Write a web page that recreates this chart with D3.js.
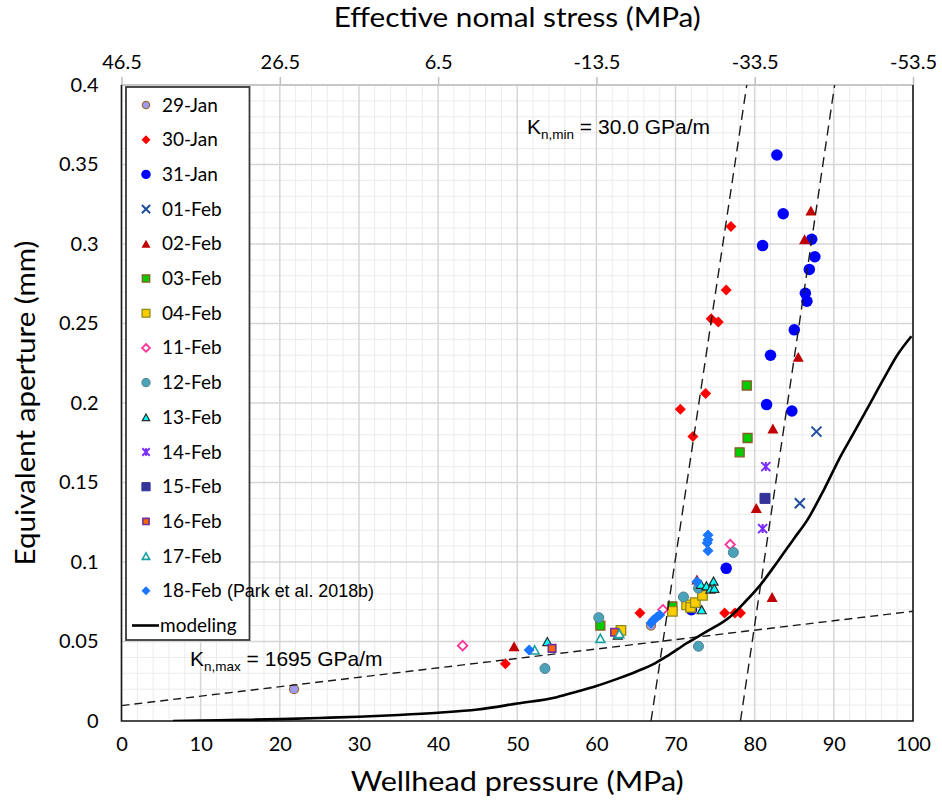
<!DOCTYPE html>
<html><head><meta charset="utf-8">
<script src="https://cdn.jsdelivr.net/npm/d3@7"></script>
<style>body{margin:0;background:#fff}</style>
</head><body>
<svg id="chart" width="942" height="801"></svg>
<script>
// ---------- data ----------
const xTickValues = [0,10,20,30,40,50,60,70,80,90,100];
const yTickValues = [0,0.05,0.1,0.15,0.2,0.25,0.3,0.35,0.4];
const topTickLabels = [46.5,26.5,6.5,-13.5,-33.5,-53.5];

const s29Jan = [[21.8,0.020],[66.9,0.060]];
const s30Jan = [[77.0,0.311],[76.4,0.271],[74.5,0.253],[75.4,0.251],[73.8,0.206],[70.6,0.196],[72.2,0.179],[65.5,0.068],[76.2,0.068],[77.5,0.068],[78.2,0.068],[48.5,0.036]];
const s31Jan = [[82.8,0.356],[83.6,0.319],[81.0,0.299],[87.2,0.303],[87.6,0.292],[86.9,0.284],[86.4,0.269],[86.6,0.264],[85.0,0.246],[82.0,0.230],[81.5,0.199],[84.7,0.195],[76.4,0.096],[72.0,0.070]];
const s01Feb = [[87.8,0.182],[85.7,0.137]];
const s02Feb = [[87.1,0.321],[86.3,0.303],[85.5,0.229],[82.3,0.184],[80.2,0.134],[82.2,0.078],[49.6,0.047],[72.7,0.089]];
const s03Feb = [[79.0,0.211],[79.1,0.178],[78.1,0.169],[69.6,0.072],[60.5,0.060]];
const s04Feb = [[69.6,0.069],[71.4,0.073],[71.9,0.0715],[72.5,0.0745],[73.4,0.079],[63.1,0.057]];
const s11Feb = [[43.1,0.0474],[68.4,0.070],[76.9,0.111]];
const s12Feb = [[60.3,0.065],[71.0,0.078],[77.3,0.106],[72.9,0.047],[53.5,0.033],[72.9,0.0835]];
const s13Feb = [[53.8,0.050],[62.7,0.054],[73.3,0.070],[73.2,0.086],[73.9,0.085],[74.8,0.088],[74.4,0.083],[74.9,0.0835]];
const s14Feb = [[81.4,0.160],[81.0,0.121]];
const s15Feb = [[81.3,0.140]];
const s16Feb = [[54.4,0.0457],[62.3,0.0558]];
const s17Feb = [[52.2,0.0447],[60.5,0.052],[62.9,0.055]];
const s18Feb = [[51.5,0.0447],[66.9,0.0616],[67.2,0.0635],[67.6,0.0652],[68.0,0.0667],[74.1,0.117],[74.1,0.114],[74.0,0.112],[74.1,0.107],[72.7,0.0876]];

const modelX = [6.5,10,15,20,25,30,35,40,45,50,55,57.5,60,62.8,65,67.4,69,71.4,73.9,76.9,78.8,80.7,83,85,86.6,88.8,90.8,92.5,94.5,96.5,98,99.8];
const modelY = [0,0.0003,0.0007,0.0012,0.0019,0.0027,0.0038,0.0052,0.0072,0.011,0.015,0.0184,0.022,0.0268,0.031,0.0363,0.041,0.0489,0.0562,0.0656,0.075,0.0855,0.101,0.115,0.126,0.146,0.166,0.181,0.199,0.217,0.230,0.242];

const knMaxLine = [[0,0.0097],[100,0.069]];
const knMinLineA = [[66.9,0],[79.0,0.4]];
const knMinLineB = [[78.2,0],[90.1,0.4]];

// ---------- setup ----------
const svg = d3.select("#chart");
const x = d3.scaleLinear().domain([0,100]).range([121.5,913]);
const y = d3.scaleLinear().domain([0,0.4]).range([721,85]);
const xTop = d3.scaleLinear().domain([46.5,-53.5]).range(x.range());
const FONT = "Lato, 'Open Sans', sans-serif";
const ARIAL = "'Liberation Sans', Arial, sans-serif";

svg.append("defs").append("clipPath").attr("id","plotclip")
  .append("rect").attr("x",x(0)).attr("y",y(0.4)).attr("width",x(100)-x(0)).attr("height",y(0)-y(0.4));

// grid
const minorX = d3.range(0,100.001,2).filter(v=>v%10!==0);
const minorY = d3.range(0,0.4001,0.01).filter(v=>Math.round(v*100)%5!==0);
const grid = svg.append("g");
grid.selectAll(".mx").data(minorX).join("line")
  .attr("x1",d=>x(d)).attr("x2",d=>x(d)).attr("y1",y(0)).attr("y2",y(0.4))
  .attr("stroke","#ebebeb").attr("stroke-width",1);
grid.selectAll(".my").data(minorY).join("line")
  .attr("y1",d=>y(d)).attr("y2",d=>y(d)).attr("x1",x(0)).attr("x2",x(100))
  .attr("stroke","#ebebeb").attr("stroke-width",1);
grid.selectAll(".Mx").data(xTickValues).join("line")
  .attr("x1",d=>x(d)).attr("x2",d=>x(d)).attr("y1",y(0)).attr("y2",y(0.4))
  .attr("stroke","#d6d6d6").attr("stroke-width",1.5);
grid.selectAll(".My").data(yTickValues).join("line")
  .attr("y1",d=>y(d)).attr("y2",d=>y(d)).attr("x1",x(0)).attr("x2",x(100))
  .attr("stroke","#d6d6d6").attr("stroke-width",1.5);

// axes
const bottomAxis = svg.append("g").attr("transform",`translate(0,${y(0)})`)
  .call(d3.axisBottom(x).tickValues(xTickValues).tickSize(0).tickPadding(16));
const leftAxis = svg.append("g").attr("transform",`translate(${x(0)},0)`)
  .call(d3.axisLeft(y).tickValues(yTickValues).tickSize(0).tickPadding(23)
    .tickFormat(d=>d===0?"0":String(+d.toFixed(2))));
const topAxis = svg.append("g").attr("transform",`translate(0,${y(0.4)})`)
  .call(d3.axisTop(xTop).tickValues(topTickLabels).tickSize(8).tickPadding(8)
    .tickFormat(d=>d.toFixed(1)));
[bottomAxis,leftAxis,topAxis].forEach(g=>{
  g.select(".domain").remove();
  g.selectAll("text").attr("font-family",FONT).attr("font-size",20).attr("fill","#000");
});
topAxis.selectAll("line").attr("stroke","#bfbfbf").attr("stroke-width",1.5);

// frame
svg.append("line").attr("x1",x(0)).attr("x2",x(100)).attr("y1",y(0.4)).attr("y2",y(0.4)).attr("stroke","#bfbfbf").attr("stroke-width",1.5);
svg.append("path").attr("d",`M${x(0)},${y(0.4)}V${y(0)}H${x(100)}V${y(0.4)}`)
  .attr("fill","none").attr("stroke","#1a1a1a").attr("stroke-width",1.6);

// titles
svg.append("text").attr("x",(x(0)+x(100))/2).attr("y",27).attr("text-anchor","middle")
  .attr("font-family",FONT).attr("font-size",26).attr("textLength",367).attr("lengthAdjust","spacingAndGlyphs")
  .text("Effective nomal stress (MPa)");
svg.append("text").attr("x",(x(0)+x(100))/2).attr("y",791).attr("text-anchor","middle")
  .attr("font-family",FONT).attr("font-size",26).attr("textLength",333).attr("lengthAdjust","spacingAndGlyphs")
  .text("Wellhead pressure (MPa)");
svg.append("text").attr("transform",`translate(35,${(y(0)+y(0.4))/2}) rotate(-90)`).attr("text-anchor","middle")
  .attr("font-family",FONT).attr("font-size",26).attr("textLength",325).attr("lengthAdjust","spacingAndGlyphs")
  .text("Equivalent aperture (mm)");

// dashed reference lines
const plot = svg.append("g").attr("clip-path","url(#plotclip)");
const lineGen = d3.line().x(d=>x(d[0])).y(d=>y(d[1]));
plot.append("path").datum(knMaxLine).attr("d",lineGen).attr("fill","none")
  .attr("stroke","#1a1a1a").attr("stroke-width",1.4).attr("stroke-dasharray","8,5");
[knMinLineA,knMinLineB].forEach(l=>plot.append("path").datum(l).attr("d",lineGen).attr("fill","none")
  .attr("stroke","#1a1a1a").attr("stroke-width",1.4).attr("stroke-dasharray","10,6"));

// marker shapes
function shapePath(type,s){
  const h=s/2;
  switch(type){
    case "diamond": return `M0,${-h}L${h},0L0,${h}L${-h},0Z`;
    case "square": return `M${-h},${-h}H${h}V${h}H${-h}Z`;
    case "triangle": { const ht=s*0.9; return `M0,${-ht/2}L${h},${ht/2}L${-h},${ht/2}Z`; }
    case "x": return `M${-h},${-h}L${h},${h}M${-h},${h}L${h},${-h}`;
    case "star": return `M${-h},${-h}L${h},${h}M${-h},${h}L${h},${-h}M0,${-h}V${h}`;
    default: return "";
  }
}
const seriesStyles = [
  {name:"29-Jan", data:s29Jan, type:"circle", size:9, fill:"#9e9cf2", stroke:"#9a6a3a", sw:1.2},
  {name:"30-Jan", data:s30Jan, type:"diamond", size:11, fill:"#ff0000", stroke:"none", sw:0},
  {name:"31-Jan", data:s31Jan, type:"circle", size:11.5, fill:"#0000ff", stroke:"none", sw:0},
  {name:"01-Feb", data:s01Feb, type:"x", size:10, fill:"none", stroke:"#1f4e9e", sw:2},
  {name:"02-Feb", data:s02Feb, type:"triangle", size:11, fill:"#c00000", stroke:"none", sw:0},
  {name:"03-Feb", data:s03Feb, type:"square", size:9, fill:"#00cc00", stroke:"#8b5a2b", sw:1.3},
  {name:"04-Feb", data:s04Feb, type:"square", size:9.5, fill:"#ffcc00", stroke:"#8a8a1a", sw:1.3},
  {name:"11-Feb", data:s11Feb, type:"diamond", size:9.5, fill:"#ffffff", stroke:"#ff3399", sw:1.8},
  {name:"12-Feb", data:s12Feb, type:"circle", size:10, fill:"#4aa3b8", stroke:"#4f8090", sw:1},
  {name:"13-Feb", data:s13Feb, type:"triangle", size:9, fill:"#00ffff", stroke:"#2a2a2a", sw:1.2},
  {name:"14-Feb", data:s14Feb, type:"star", size:9, fill:"none", stroke:"#7a2cff", sw:2},
  {name:"15-Feb", data:s15Feb, type:"square", size:10, fill:"#333399", stroke:"#333399", sw:1},
  {name:"16-Feb", data:s16Feb, type:"square", size:7.5, fill:"#ff6600", stroke:"#7030a0", sw:1.6},
  {name:"17-Feb", data:s17Feb, type:"triangle", size:9, fill:"#ffffff", stroke:"#1aa0a0", sw:1.6},
  {name:"18-Feb", data:s18Feb, type:"diamond", size:11, fill:"#1a75ff", stroke:"none", sw:0}
];
function drawMarker(sel,st){
  if(st.type==="circle"){
    sel.append("circle").attr("r",st.size/2).attr("fill",st.fill).attr("stroke",st.stroke).attr("stroke-width",st.sw);
  } else {
    sel.append("path").attr("d",shapePath(st.type,st.size)).attr("fill",st.fill)
      .attr("stroke",st.stroke).attr("stroke-width",st.sw).attr("stroke-linejoin","miter");
  }
}
const marks = svg.append("g");
seriesStyles.forEach(st=>{
  marks.append("g").selectAll("g").data(st.data).join("g")
    .attr("transform",d=>`translate(${x(d[0])},${y(d[1])})`)
    .each(function(){ drawMarker(d3.select(this),st); });
});

// model curve
const modelPts = modelX.map((v,i)=>[v,modelY[i]]);
plot.append("path").datum(modelPts)
  .attr("d",d3.line().x(d=>x(d[0])).y(d=>y(d[1])).curve(d3.curveMonotoneX))
  .attr("fill","none").attr("stroke","#000").attr("stroke-width",2.6);
svg.node().appendChild(plot.node());

// legend
const lg = svg.append("g");
lg.append("rect").attr("x",126).attr("y",87).attr("width",123.5).attr("height",553)
  .attr("fill","#fff").attr("stroke","#3a3a3a").attr("stroke-width",1.8);
const legY0 = 105, legStep = 34.7;
seriesStyles.forEach((st,i)=>{
  const g = lg.append("g").attr("transform",`translate(146,${legY0+i*legStep})`);
  const sm = Object.assign({},st,{size:st.size*0.82});
  drawMarker(g,sm);
  lg.append("text").attr("x",162).attr("y",legY0+i*legStep+6.5)
    .attr("font-family",FONT).attr("font-size",19).attr("fill","#000").text(st.name);
  if(st.name==="18-Feb"){
    lg.append("text").attr("x",227).attr("y",legY0+i*legStep+6.5)
      .attr("font-family",ARIAL).attr("font-size",17.5).attr("textLength",147).attr("lengthAdjust","spacingAndGlyphs")
      .text("(Park et al. 2018b)");
  }
});
const mY = legY0+15*legStep;
lg.append("line").attr("x1",132).attr("x2",159).attr("y1",mY).attr("y2",mY).attr("stroke","#000").attr("stroke-width",2.6);
lg.append("text").attr("x",160).attr("y",mY+6).attr("font-family",FONT).attr("font-size",19).text("modeling");

// annotations
function kLabel(px,py,sub,rest){
  const t = svg.append("text").attr("x",px).attr("y",py).attr("font-family",ARIAL).attr("font-size",21);
  t.append("tspan").text("K");
  t.append("tspan").attr("font-size",13.5).attr("dy",5).text(sub);
  t.append("tspan").attr("dy",-5).text(rest);
}
kLabel(527,134,"n,min"," = 30.0 GPa/m");
kLabel(190,666,"n,max"," = 1695 GPa/m");
</script>
</body></html>
